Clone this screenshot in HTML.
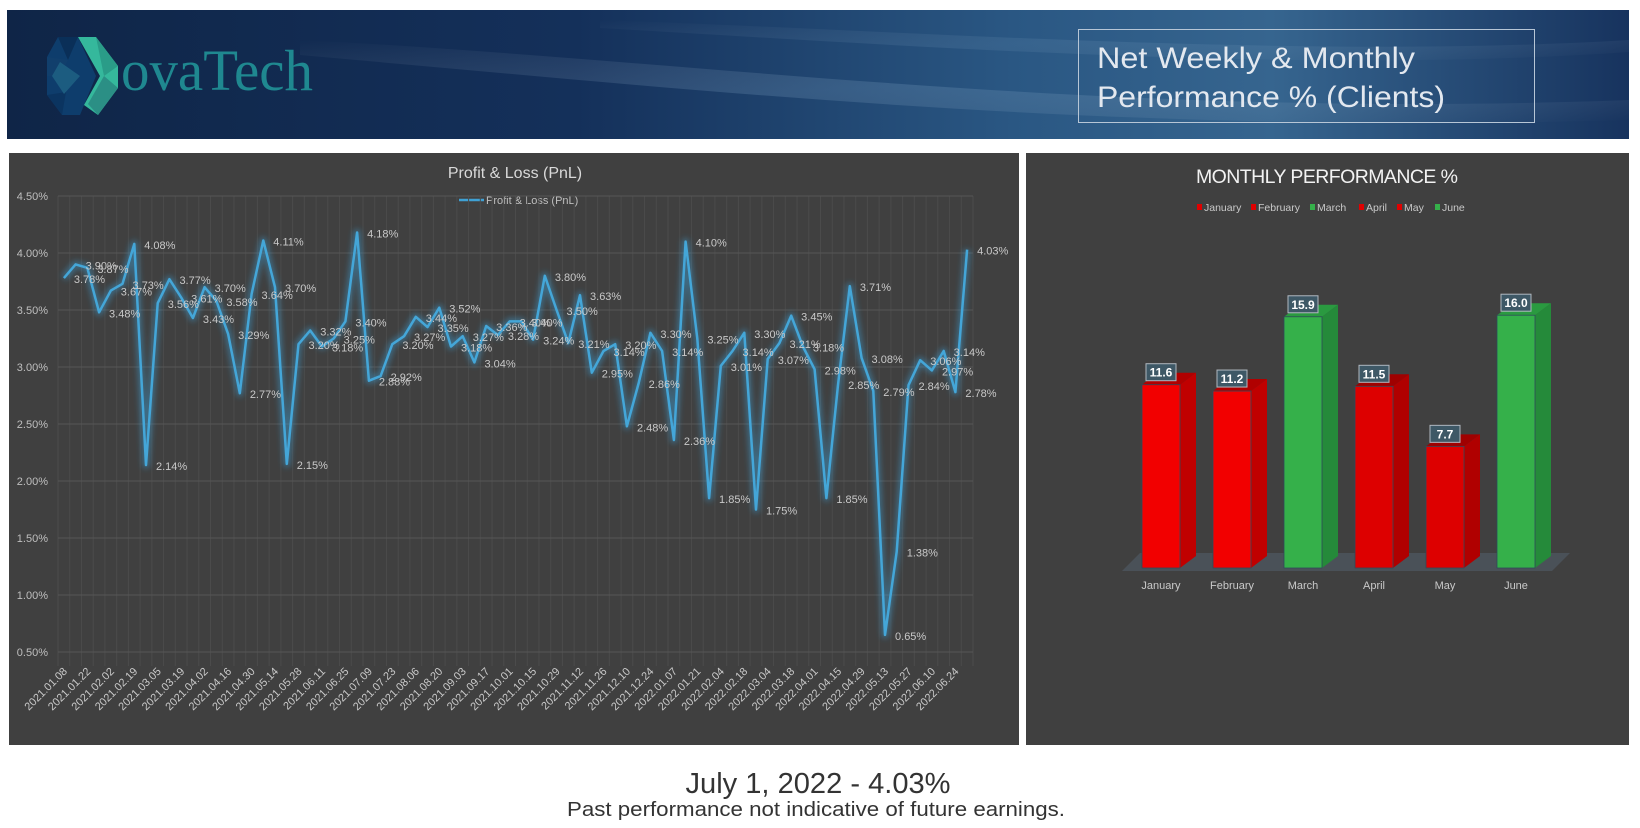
<!DOCTYPE html>
<html><head><meta charset="utf-8"><style>
html,body{margin:0;padding:0;background:#fff;width:1640px;height:828px;overflow:hidden}
svg{display:block}
text{font-family:"Liberation Sans",sans-serif}
</style></head><body>
<svg id="root" width="1640" height="828" viewBox="0 0 1640 828" xmlns="http://www.w3.org/2000/svg">
<defs>
<linearGradient id="hdr" x1="0" y1="0" x2="1" y2="0">
<stop offset="0" stop-color="#0f2547"/><stop offset="0.35" stop-color="#14305a"/><stop offset="0.62" stop-color="#2a5783"/><stop offset="0.78" stop-color="#36658f"/><stop offset="1" stop-color="#17335e"/>
</linearGradient>
<linearGradient id="streak" x1="0" y1="0" x2="1" y2="1">
<stop offset="0" stop-color="#ffffff" stop-opacity="0"/><stop offset="0.5" stop-color="#9fc3e0" stop-opacity="0.18"/><stop offset="1" stop-color="#ffffff" stop-opacity="0"/>
</linearGradient>
<filter id="glow" x="-5%" y="-5%" width="110%" height="110%"><feGaussianBlur stdDeviation="3"/></filter>
</defs>

<g>
<rect x="7" y="10" width="1622" height="129" fill="url(#hdr)"/>
<path d="M300 40 C700 60 1100 120 1629 100 L1629 120 C1100 135 700 90 300 55Z" fill="url(#streak)"/>
<path d="M600 20 C900 30 1300 60 1629 40 L1629 52 C1300 75 900 45 600 28Z" fill="url(#streak)" opacity="0.6"/>
<g>
<polygon points="58,37 78,37 96,76 80,115 62,115 47,95 47,57" fill="#0e3d6c"/>
<polygon points="58,37 78,37 68,60" fill="#0a2f58"/>
<polygon points="47,57 68,60 60,76 47,76" fill="#113f6c"/>
<polygon points="47,95 62,115 66,92" fill="#0b3460"/>
<polygon points="60,62 80,76 64,94 52,76" fill="#1c5c80"/>
<polygon points="78,37 96,37 118,66 118,88 98,115 84,105 100,76" fill="#35b89c"/>
<polygon points="96,37 118,66 104,76" fill="#2a9c88"/>
<polygon points="104,76 118,88 98,115 88,104" fill="#2b8f85"/>
<text x="121" y="90" style="font-family:'Liberation Serif',serif" font-size="58" fill="#1f8890" textLength="192" lengthAdjust="spacingAndGlyphs">ovaTech</text>
</g>
<rect x="1078.5" y="29.5" width="456" height="93" fill="none" stroke="#b7c6d6" stroke-width="1"/>
<text x="1097" y="68" font-size="30" fill="#e3e8ef" textLength="318" lengthAdjust="spacingAndGlyphs">Net Weekly &amp; Monthly</text>
<text x="1097" y="107" font-size="30" fill="#e3e8ef" textLength="348" lengthAdjust="spacingAndGlyphs">Performance % (Clients)</text>
</g>

<g id="pnl">
<rect x="9" y="153" width="1010" height="592" fill="#404040"/>
<text x="515" y="178" text-anchor="middle" font-size="16" fill="#d9d9d9">Profit &amp; Loss (PnL)</text>
<line x1="459" y1="200" x2="484" y2="200" stroke="#3fa1d4" stroke-width="2.5"/>
<text x="486" y="204" font-size="11" fill="#bfbfbf">Profit &amp; Loss (PnL)</text>
<g id="pgrid"></g><g id="pline"></g><g id="plabels"></g><g id="pyt"></g><g id="pxt"></g>
</g>

<g id="mon">
<rect x="1026" y="153" width="603" height="592" fill="#404040"/>
<text x="1327" y="183" text-anchor="middle" font-size="19.5" fill="#f2f2f2" textLength="262">MONTHLY PERFORMANCE %</text>
<polygon points="1122,571 1552,571 1570,553 1140,553" fill="#4a5158"/>
<g id="mleg"></g><g id="mbars"></g>
</g>

<text x="818" y="793" text-anchor="middle" font-size="29" fill="#333" textLength="265" lengthAdjust="spacingAndGlyphs">July 1, 2022 - 4.03%</text>
<text x="816" y="816" text-anchor="middle" font-size="20" fill="#333" textLength="498" lengthAdjust="spacingAndGlyphs">Past performance not indicative of future earnings.</text>
</svg>
<script>
const pnlValues=[3.78,3.90,3.87,3.48,3.67,3.73,4.08,2.14,3.56,3.77,3.61,3.43,3.70,3.58,3.29,2.77,3.64,4.11,3.70,2.15,3.20,3.32,3.18,3.25,3.40,4.18,2.88,2.92,3.20,3.27,3.44,3.35,3.52,3.18,3.27,3.04,3.36,3.28,3.40,3.40,3.24,3.80,3.50,3.21,3.63,2.95,3.14,3.20,2.48,2.86,3.30,3.14,2.36,4.10,3.25,1.85,3.01,3.14,3.30,1.75,3.07,3.21,3.45,3.18,2.98,1.85,2.85,3.71,3.08,2.79,0.65,1.38,2.84,3.06,2.97,3.14,2.78,4.03];
const xTickLabels=["2021.01.08","2021.01.22","2021.02.02","2021.02.19","2021.03.05","2021.03.19","2021.04.02","2021.04.16","2021.04.30","2021.05.14","2021.05.28","2021.06.11","2021.06.25","2021.07.09","2021.07.23","2021.08.06","2021.08.20","2021.09.03","2021.09.17","2021.10.01","2021.10.15","2021.10.29","2021.11.12","2021.11.26","2021.12.10","2021.12.24","2022.01.07","2022.01.21","2022.02.04","2022.02.18","2022.03.04","2022.03.18","2022.04.01","2022.04.15","2022.04.29","2022.05.13","2022.05.27","2022.06.10","2022.06.24"];
const yTicks=[0.5,1.0,1.5,2.0,2.5,3.0,3.5,4.0,4.5];
const months=["January","February","March","April","May","June"];
const monthValues=[11.6,11.2,15.9,11.5,7.7,16.0];

const NS="http://www.w3.org/2000/svg";
function mk(t,a,p){const e=document.createElementNS(NS,t);for(const k in a)e.setAttribute(k,a[k]);p.appendChild(e);return e;}
const PL=58,PR=973,PT=196,PB=652,YMIN=0.5,YMAX=4.5;
const N=pnlValues.length,step=(PR-PL)/N;
const xS=i=>PL+step*(i+0.5);
const yS=v=>PB-(v-YMIN)/(YMAX-YMIN)*(PB-PT);
const g=document.getElementById('pgrid');
for(let i=0;i<=N;i++){const l=mk('line',{x1:PL+step*i,x2:PL+step*i,y1:PT,y2:PB+14,stroke:'#4b4b4b','stroke-width':1},g);

}
const yt=document.getElementById('pyt');
yTicks.forEach(v=>{const l=mk('line',{x1:PL,x2:PR,y1:yS(v),y2:yS(v),stroke:'#565656','stroke-width':1},g);


const t=mk('text',{x:48,y:yS(v)+4,'text-anchor':'end','font-size':11,fill:'#bfbfbf'},yt);t.textContent=v.toFixed(2)+'%';

});
const pts=pnlValues.map((v,i)=>xS(i).toFixed(1)+','+yS(v).toFixed(1)).join(' ');
const pl=document.getElementById('pline');
const gl=mk('polyline',{points:pts,fill:'none',stroke:'#3a9fd8','stroke-width':7,'stroke-opacity':0.45,filter:'url(#glow)','stroke-linejoin':'round'},pl);


const ln=mk('polyline',{points:pts,fill:'none',stroke:'#44a6d8','stroke-width':2.5,'stroke-linejoin':'round'},pl);


const lb=document.getElementById('plabels');
pnlValues.forEach((v,i)=>{const t=mk('text',{x:xS(i)+10,y:yS(v)+5,'font-size':11,fill:'#c9c9c9'},lb);t.textContent=v.toFixed(2)+'%';

});
const xt=document.getElementById('pxt');
xTickLabels.forEach((s,j)=>{const x=xS(j*2)+4,y=672;const t=mk('text',{x:x,y:y,'text-anchor':'end','font-size':11,fill:'#c9c9c9',transform:`rotate(-45 ${x} ${y})`},xt);t.textContent=s;

});

const B0=568,UNIT=15.8,BX0=1142,BSTEP=71,BW=38,DX=16,DY=12;
const bx=i=>BX0+BSTEP*i;const by=v=>B0-v*UNIT;
const pal={up:['#35b04a','#258a3a','#2a9a40'],dn1:['#f20000','#c00000','#b00000'],dn2:['#dd0000','#b00000','#a00000']};
const mb=document.getElementById('mbars');
monthValues.forEach((v,i)=>{const c=v>=15?pal.up:(i<2?pal.dn1:pal.dn2);const x=bx(i),y=by(v);
const gg=mk('g',{},mb);

mk('polygon',{points:`${x+BW},${y} ${x+BW+DX},${y-DY} ${x+BW+DX},${B0-DY} ${x+BW},${B0}`,fill:c[1]},gg);
mk('polygon',{points:`${x},${y} ${x+DX},${y-DY} ${x+BW+DX},${y-DY} ${x+BW},${y}`,fill:c[2]},gg);
mk('rect',{x:x,y:y,width:BW,height:B0-y,fill:c[0],stroke:'#2f4a5a','stroke-width':0.8},gg);
const lbx=x+BW/2;
const r=mk('rect',{x:lbx-15,y:y-21,width:30,height:17,fill:'#3e5866',stroke:'#b0b8c0','stroke-width':1},gg);


const t=mk('text',{x:lbx,y:y-8,'text-anchor':'middle','font-size':12,'font-weight':'bold',fill:'#fff'},gg);t.textContent=v.toFixed(1);


const ct=mk('text',{x:lbx,y:589,'text-anchor':'middle','font-size':11,fill:'#c9c9c9'},mb);ct.textContent=months[i];

});
const legX=[1197,1251,1310,1359,1397,1435];
const lg=document.getElementById('mleg');
months.forEach((m,i)=>{const c=monthValues[i]>=15?'#35b04a':'#e00000';
const e=mk('g',{},lg);

mk('rect',{x:legX[i],y:204,width:5,height:6,fill:c},e);
const t=mk('text',{x:legX[i]+7,y:211,'font-size':10.5,fill:'#c9c9c9'},e);t.textContent=m;});
</script>
</body></html>
